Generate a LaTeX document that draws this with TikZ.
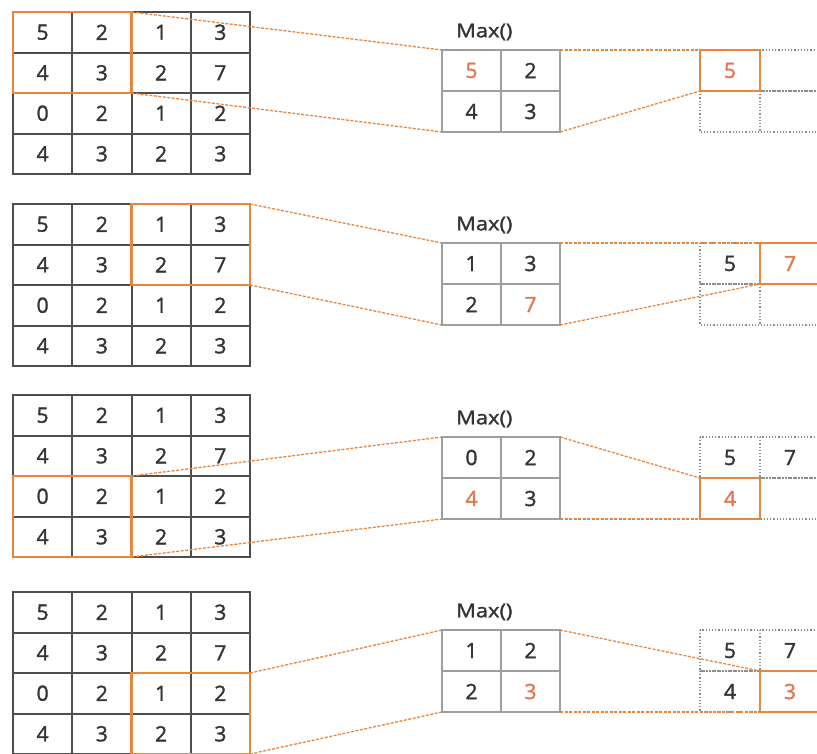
\documentclass[tikz,border=0pt]{standalone}
\usepackage{fontspec}
\setmainfont{Open Sans}
\newfontfamily\cellfont[FakeBold=1.6]{Open Sans}

\definecolor{poolorange}{RGB}{232,134,62}
\definecolor{hiorange}{RGB}{226,118,80}
\definecolor{inkgray}{RGB}{52,52,52}
\definecolor{gridgray}{RGB}{78,78,78}
\definecolor{midgray}{RGB}{158,158,158}
\definecolor{dotgray}{RGB}{140,140,140}

\tikzset{
  num/.style={font=\cellfont\fontsize{21}{24}\selectfont, text=inkgray, inner sep=0pt},
  hinum/.style={num, text=hiorange},
  inputline/.style={draw=gridgray, line width=2pt},
  midbox/.style={draw=midgray, line width=1.6pt, rectangle, inner sep=0pt, outer sep=0pt,
                 minimum width=118pt, minimum height=82pt},
  midline/.style={draw=midgray, line width=1.6pt},
  dotcell/.style={draw=dotgray, line width=1.2pt, dotted},
  window/.style={draw=poolorange, line width=2.8pt, rectangle, inner sep=0pt, outer sep=0pt,
                 minimum width=118.5pt, minimum height=81pt},
  outbox/.style={draw=poolorange, line width=2.2pt, rectangle, inner sep=0pt, outer sep=0pt,
                 minimum width=60pt, minimum height=41pt},
  link/.style={draw=poolorange, line width=1.3pt, dash pattern=on 3pt off 1.5pt},
  maxlabel/.style={font=\cellfont\fontsize{19}{22}\selectfont, text=inkgray, anchor=west, inner sep=0pt},
}

% 4x4 input feature map with its top edge at y=#2
\newcommand\inputgrid[2]{%
  \foreach \v [count=\i from 0] in {5,2,1,3,4,3,2,7,0,2,1,2,4,3,2,3}{
    \pgfmathtruncatemacro\cc{mod(\i,4)}
    \pgfmathtruncatemacro\rr{div(\i,4)}
    \node[num] (in#1-\rr\cc) at ({13+59.25*(\cc+0.5)},{#2+40.5*(\rr+0.5)}) {\v};
  }
  \foreach \k in {1,2,3}{
    \draw[inputline] ({13+59.25*\k},#2) -- ({13+59.25*\k},#2+162);
    \draw[inputline] (13,{#2+40.5*\k}) -- (250,{#2+40.5*\k});
  }
  \draw[inputline] (13,#2) rectangle (250,#2+162);
}

% 2x2 pooling window copy with the Max() caption; #2 = top edge
\newcommand\midgrid[6]{%
  \node[maxlabel] (max#1) at (456,#2-18) {\scalebox{1.15}[1]{Max()}};
  \node[midbox] (mid#1) at (501,#2+41) {};
  \draw[midline] (mid#1.north) -- (mid#1.south);
  \draw[midline] (mid#1.west) -- (mid#1.east);
  \node[#3] (mid#1-a) at (471.5,#2+20.5) {#4};
  \node[num] (mid#1-b) at (530.5,#2+20.5) {#5};
  \node[num] (mid#1-c) at (471.5,#2+61.5) {#6};
}

% dotted cell of the 2x2 output map; #1 col, #2 row, #3 top edge
\newcommand\outcell[3]{%
  \draw[dotcell] ({700+60*#1},{#3+41*#2}) rectangle ++(60,41);
}

\begin{document}
\begin{tikzpicture}[x=1pt,y=-1pt]
\useasboundingbox (0,0) rectangle (817,753);
\clip (0,0) rectangle (817,753);

% ---------- step 1 ----------
\inputgrid{1}{12}
\node[window] (win1) at (72.25,52.5) {};
\midgrid{1}{50}{hinum}{5}{2}{4}
\node[num] (mid1-d) at (530.5,111.5) {3};
\outcell{1}{0}{50}\outcell{0}{1}{50}\outcell{1}{1}{50}
\node[outbox] (out1) at (730,70.5) {};
\node[hinum] (res1) at (out1) {5};
\draw[link] (win1.north east) -- (mid1.north west);
\draw[link] (win1.south east) -- (mid1.south west);
\draw[link] (mid1.north east) -- (out1.north west);
\draw[link] (mid1.south east) -- (out1.south west);

% ---------- step 2 ----------
\inputgrid{2}{204}
\node[window] (win2) at (190.75,244.5) {};
\midgrid{2}{243}{num}{1}{3}{2}
\node[hinum] (mid2-d) at (530.5,304.5) {7};
\outcell{0}{0}{243}\outcell{0}{1}{243}\outcell{1}{1}{243}
\node[num] (res2-a) at (730,263.5) {5};
\node[outbox] (out2) at (790,263.5) {};
\node[hinum] (res2) at (out2) {7};
\draw[link] (win2.north east) -- (mid2.north west);
\draw[link] (win2.south east) -- (mid2.south west);
\draw[link] (mid2.north east) -- (out2.north west);
\draw[link] (mid2.south east) -- (out2.south west);

% ---------- step 3 ----------
\inputgrid{3}{395}
\node[window] (win3) at (72.25,516.5) {};
\midgrid{3}{437}{num}{0}{2}{\textcolor{hiorange}{4}}
\node[num] (mid3-d) at (530.5,498.5) {3};
\outcell{0}{0}{437}\outcell{1}{0}{437}\outcell{1}{1}{437}
\node[num] (res3-a) at (730,457.5) {5};
\node[num] (res3-b) at (790,457.5) {7};
\node[outbox] (out3) at (730,498.5) {};
\node[hinum] (res3) at (out3) {4};
\draw[link] (win3.north east) -- (mid3.north west);
\draw[link] (win3.south east) -- (mid3.south west);
\draw[link] (mid3.north east) -- (out3.north west);
\draw[link] (mid3.south east) -- (out3.south west);

% ---------- step 4 ----------
\inputgrid{4}{592}
\node[window] (win4) at (190.75,713.5) {};
\midgrid{4}{630}{num}{1}{2}{2}
\node[hinum] (mid4-d) at (530.5,691.5) {3};
\outcell{0}{0}{630}\outcell{1}{0}{630}\outcell{0}{1}{630}
\node[num] (res4-a) at (730,650.5) {5};
\node[num] (res4-b) at (790,650.5) {7};
\node[num] (res4-c) at (730,691.5) {4};
\node[outbox] (out4) at (790,691.5) {};
\node[hinum] (res4) at (out4) {3};
\draw[link] (win4.north east) -- (mid4.north west);
\draw[link] (win4.south east) -- (mid4.south west);
\draw[link] (mid4.north east) -- (out4.north west);
\draw[link] (mid4.south east) -- (out4.south west);
\end{tikzpicture}
\end{document}
